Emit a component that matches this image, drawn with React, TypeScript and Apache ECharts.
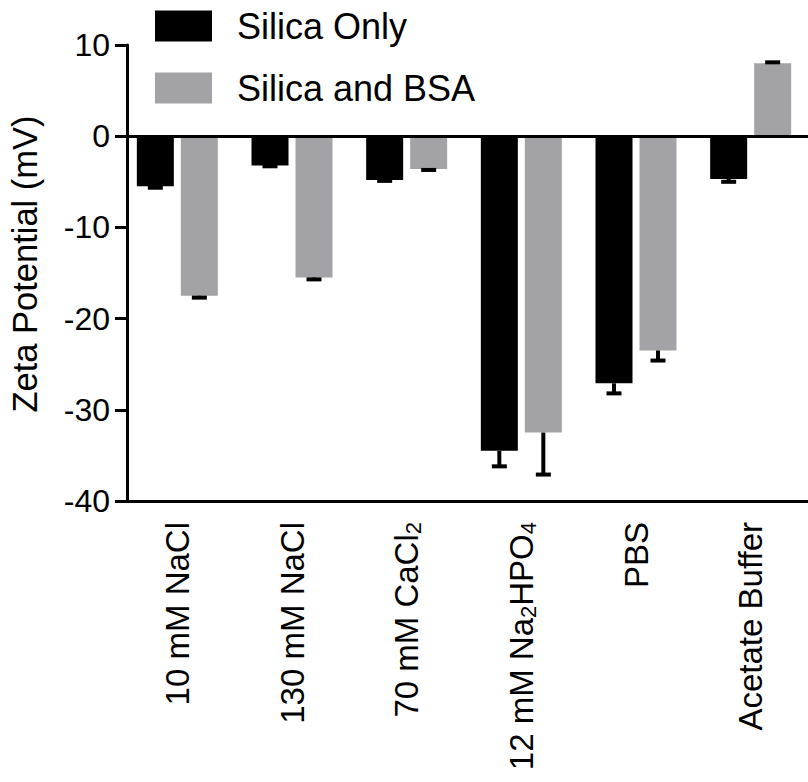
import React, { useEffect, useRef } from "react";
import * as echarts from "echarts";

const categories = ["10 mM NaCl", "130 mM NaCl", "70 mM CaCl2", "12 mM Na2HPO4", "PBS", "Acetate Buffer"];
const silicaOnly = [-5.5, -3.2, -4.8, -34.5, -27.1, -4.7];
const silicaOnlyErr = [0.15, 0.1, 0.1, 1.7, 1.1, 0.3];
const silicaBSA = [-17.5, -15.5, -3.6, -32.5, -23.5, 8.0];
const silicaBSAErr = [0.2, 0.2, 0.1, 4.6, 1.1, 0.1];
const yTicks = { min: -40, max: 10, interval: 10 };
const seriesNames = ["Silica Only", "Silica and BSA"];

const FONT = "Liberation Sans, Arial, sans-serif";
const BAR_W = 37;
const BAR_GAP = 7;
const OFFSET = (BAR_W + BAR_GAP) / 2;

function errorSeries(values: number[], errs: number[], offset: number) {
  return {
    type: "custom",
    silent: true,
    z: 5,
    encode: { x: 0, y: 1 },
    data: values.map((v, i) => [i, v, errs[i]]),
    renderItem: (params: any, api: any) => {
      const idx = api.value(0);
      const v = api.value(1);
      const e = api.value(2);
      const sign = v < 0 ? -1 : 1;
      const p0 = api.coord([idx, v]);
      const p1 = api.coord([idx, v + sign * e]);
      const x = p0[0] + offset;
      const style = { stroke: "#000", lineWidth: 4 };
      return {
        type: "group",
        children: [
          { type: "line", shape: { x1: x, y1: p0[1], x2: x, y2: p1[1] }, style },
          { type: "line", shape: { x1: x - 7.5, y1: p1[1], x2: x + 7.5, y2: p1[1] }, style },
        ],
      };
    },
  };
}

function labelFormatter(name: string) {
  return name.replace(/(Na|Cl|O)(\d)/g, (_m, a, d) => `${a}{sub|${d}}`);
}

export default function App() {
  const ref = useRef<HTMLDivElement>(null);
  useEffect(() => {
    document.body.style.margin = "0";
    const chart = echarts.init(ref.current!, null, { renderer: "svg" });
    chart.setOption({
      animation: false,
      backgroundColor: "#fff",
      textStyle: { fontFamily: FONT, color: "#000" },
      grid: { left: 120, top: 45, width: 700, height: 456 },
      legend: {
        orient: "vertical",
        left: 155,
        top: 8,
        padding: 0,
        icon: "rect",
        itemWidth: 57,
        itemHeight: 31,
        itemGap: 26,
        data: seriesNames,
        textStyle: { fontFamily: FONT, fontSize: 36, color: "#000", padding: [0, 0, 0, 20] },
      },
      xAxis: {
        type: "category",
        data: categories,
        position: "bottom",
        axisLine: { onZero: false, lineStyle: { color: "#000", width: 3 } },
        axisTick: { alignWithLabel: true, length: 12, lineStyle: { color: "#000", width: 3 } },
        axisLabel: {
          rotate: 90,
          margin: 21,
          interval: 0,
          fontSize: 33,
          fontFamily: FONT,
          color: "#000",
          formatter: labelFormatter,
          rich: {
            sub: { fontSize: 22, fontFamily: FONT, color: "#000", verticalAlign: "bottom", padding: [14, 0, 0, 0] },
          },
        },
      },
      yAxis: {
        type: "value",
        min: yTicks.min,
        max: yTicks.max,
        interval: yTicks.interval,
        offset: -7,
        splitLine: { show: false },
        axisLine: { show: true, lineStyle: { color: "#000", width: 3 } },
        axisTick: { show: true, length: 12, lineStyle: { color: "#000", width: 3 } },
        axisLabel: { fontSize: 32, fontFamily: FONT, color: "#000", margin: 17 },
      },
      graphic: [
        {
          type: "text",
          x: 25,
          y: 264,
          rotation: Math.PI / 2,
          style: {
            text: "Zeta Potential (mV)",
            fontSize: 34.5,
            fontFamily: FONT,
            fill: "#000",
            textAlign: "center",
            textVerticalAlign: "middle",
          },
        },
      ],
      series: [
        {
          name: seriesNames[0],
          type: "bar",
          data: silicaOnly,
          barWidth: BAR_W,
          barGap: `${(BAR_GAP / BAR_W) * 100}%`,
          itemStyle: { color: "#000" },
          markLine: {
            silent: true,
            symbol: "none",
            label: { show: false },
            lineStyle: { color: "#000", width: 3, type: "solid" },
            data: [{ yAxis: 0 }],
          },
        },
        {
          name: seriesNames[1],
          type: "bar",
          data: silicaBSA,
          barWidth: BAR_W,
          itemStyle: { color: "#a3a2a7" },
        },
        errorSeries(silicaOnly, silicaOnlyErr, -OFFSET),
        errorSeries(silicaBSA, silicaBSAErr, OFFSET),
      ],
    });
    return () => chart.dispose();
  }, []);
  return <div ref={ref} style={{ position: "fixed", left: 0, top: 0, width: 808, height: 782 }} />;
}
